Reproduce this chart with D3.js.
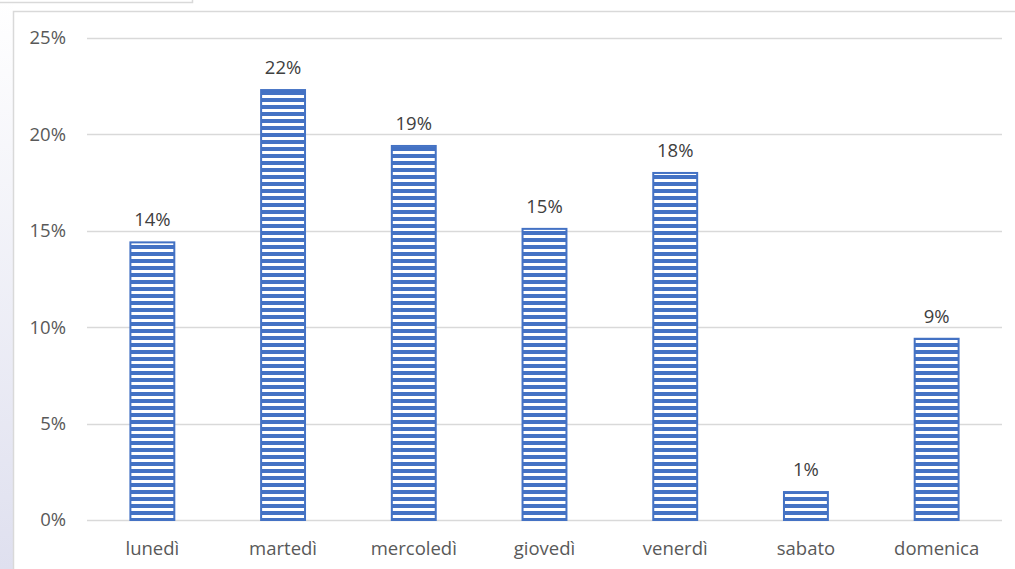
<!DOCTYPE html>
<html>
<head>
<meta charset="utf-8">
<script src="https://cdn.jsdelivr.net/npm/d3@7"></script>
<style>
  body { margin: 0; background: #fff; }
  svg { display: block; }
</style>
</head>
<body>
<div id="chart"></div>
<script>
// Data: share of the week per day
const days = ["lunedì", "martedì", "mercoledì", "giovedì", "venerdì", "sabato", "domenica"];
const shares = [0.144, 0.223, 0.194, 0.151, 0.180, 0.0145, 0.094];
const yTicks = [0, 0.05, 0.10, 0.15, 0.20, 0.25];

const width = 1015, height = 569;
const margin = { left: 87, right: 13, top: 38, bottom: 49 };
const blue = "#4472c4";
const fontSize = "18.5px";
const fontFamily = "'Open Sans', sans-serif";

const svg = d3.select("#chart").append("svg")
    .attr("width", width)
    .attr("height", height);

const defs = svg.append("defs");

// Left strip gradient (window background)
const grad = defs.append("linearGradient")
    .attr("id", "side")
    .attr("x1", 0).attr("y1", 0).attr("x2", 0).attr("y2", 1);
grad.append("stop").attr("offset", "0%").attr("stop-color", "#ffffff");
grad.append("stop").attr("offset", "100%").attr("stop-color", "#dfe0ef");

// Horizontal stripe pattern for bars
const pat = defs.append("pattern")
    .attr("id", "stripes")
    .attr("patternUnits", "userSpaceOnUse")
    .attr("width", 8).attr("height", 7);
pat.append("rect").attr("width", 8).attr("height", 7).attr("fill", "#ffffff");
pat.append("rect").attr("width", 8).attr("height", 4).attr("fill", blue);

svg.append("rect")
    .attr("x", 0).attr("y", 0)
    .attr("width", 13).attr("height", height)
    .attr("fill", "url(#side)");

// Small box edge at top-left
svg.append("path")
    .attr("d", "M0,2.5H192.5V0")
    .attr("fill", "none")
    .attr("stroke", "#d9d9d9")
    .attr("stroke-width", 1.5);

// Chart area border
svg.append("rect")
    .attr("x", 13.5).attr("y", 11.5)
    .attr("width", width).attr("height", height)
    .attr("fill", "#fff")
    .attr("stroke", "#d9d9d9")
    .attr("stroke-width", 1.5);

const x = d3.scaleBand()
    .domain(days)
    .range([margin.left, width - margin.right])
    .paddingInner(0.664)
    .paddingOuter(0.332);

const y = d3.scaleLinear()
    .domain([0, 0.25])
    .range([height - margin.bottom, margin.top]);

// Gridlines
svg.append("g")
    .selectAll("line")
    .data(yTicks)
    .join("line")
    .attr("x1", margin.left)
    .attr("x2", width - margin.right)
    .attr("y1", d => Math.round(y(d)) + 0.5)
    .attr("y2", d => Math.round(y(d)) + 0.5)
    .attr("stroke", "#d9d9d9")
    .attr("stroke-width", 1.5);

// Y axis labels
const yAxis = svg.append("g")
    .attr("transform", `translate(${margin.left - 21},0)`)
    .call(d3.axisLeft(y).tickValues(yTicks).tickFormat(d3.format(".0%")).tickSize(0).tickPadding(0));
yAxis.select(".domain").remove();
yAxis.selectAll("text")
    .attr("fill", "#595959")
    .style("font-family", fontFamily)
    .style("font-size", fontSize);

// X axis labels
const xAxis = svg.append("g")
    .attr("transform", `translate(0,${height - margin.bottom + 22})`)
    .call(d3.axisBottom(x).tickSize(0).tickPadding(0));
xAxis.select(".domain").remove();
xAxis.selectAll("text")
    .attr("fill", "#595959")
    .style("font-family", fontFamily)
    .style("font-size", fontSize);

// Bars
svg.append("g")
    .selectAll("rect")
    .data(days)
    .join("rect")
    .attr("x", d => x(d))
    .attr("width", x.bandwidth())
    .attr("y", (d, i) => y(shares[i]))
    .attr("height", (d, i) => y(0) - y(shares[i]))
    .attr("fill", "url(#stripes)")
    .attr("stroke", blue)
    .attr("stroke-width", 2);

// Value labels
svg.append("g")
    .selectAll("text")
    .data(days)
    .join("text")
    .attr("x", d => x(d) + x.bandwidth() / 2)
    .attr("y", (d, i) => y(shares[i]) - 16)
    .attr("text-anchor", "middle")
    .attr("fill", "#404040")
    .style("font-family", fontFamily)
    .style("font-size", fontSize)
    .text((d, i) => d3.format(".0%")(shares[i]));
</script>
</body>
</html>
